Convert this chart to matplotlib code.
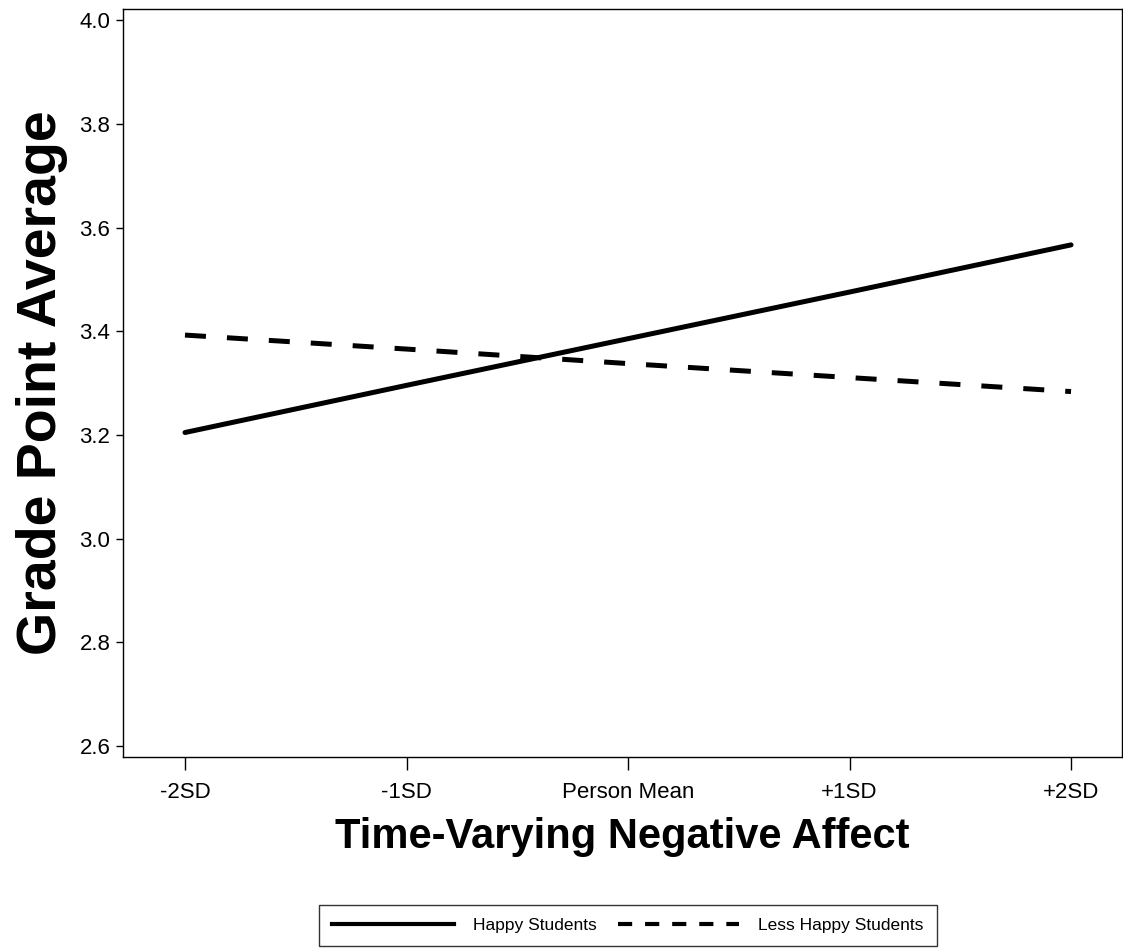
import matplotlib
matplotlib.use("Agg")
import matplotlib.pyplot as plt
from matplotlib.lines import Line2D

plt.rcParams['font.family'] = ['Liberation Sans', 'DejaVu Sans']

# values
levels = ["-2SD", "-1SD", "Person Mean", "+1SD", "+2SD"]
xpos = [-2, -1, 0, 1, 2]
happy = [3.205, 3.296, 3.386, 3.476, 3.567]
less_happy = [3.393, 3.366, 3.338, 3.311, 3.284]
yticks = [2.6, 2.8, 3.0, 3.2, 3.4, 3.6, 3.8, 4.0]

fig = plt.figure(figsize=(11.23, 9.51), dpi=100)
ax = fig.add_axes([0.1095, 0.204, 0.8896, 0.7865])

ax.plot(xpos, happy, color="black", lw=3.6, solid_capstyle="round")
ax.plot(xpos, less_happy, color="black", lw=3.6, dashes=[4.2, 4.2], dash_capstyle="butt")

ax.set_xlim(-2.28, 2.23)
ax.set_ylim(2.579, 4.022)
ax.set_xticks(xpos)
ax.set_xticklabels(levels)
ax.set_yticks(yticks)
ax.set_yticklabels(["%.1f" % v for v in yticks])
ax.tick_params(axis="x", length=9, width=1, labelsize=16, pad=9)
ax.tick_params(axis="y", length=5, width=1, labelsize=16, pad=4)
for s in ax.spines.values():
    s.set_linewidth(1.0)

ax.set_xlabel("Time-Varying Negative Affect", fontsize=30, fontweight="bold", labelpad=10)
ax.set_ylabel("Grade Point Average", fontsize=40, fontweight="bold", labelpad=8)

handles = [Line2D([], [], color="black", lw=3),
           Line2D([], [], color="black", lw=3, dashes=[3.4, 3.1], dash_capstyle="butt")]
leg = fig.legend(handles, ["Happy Students", "Less Happy Students"], ncol=2,
                 loc="center", bbox_to_anchor=(628 / 1123, 1 - 925.5 / 951),
                 fontsize=12.5, handlelength=7.0, handletextpad=1.1, columnspacing=1.2,
                 frameon=True, fancybox=False, edgecolor="black", borderpad=0.75)
leg.get_frame().set_linewidth(1.0)

fig.savefig("out.png", dpi=100)
